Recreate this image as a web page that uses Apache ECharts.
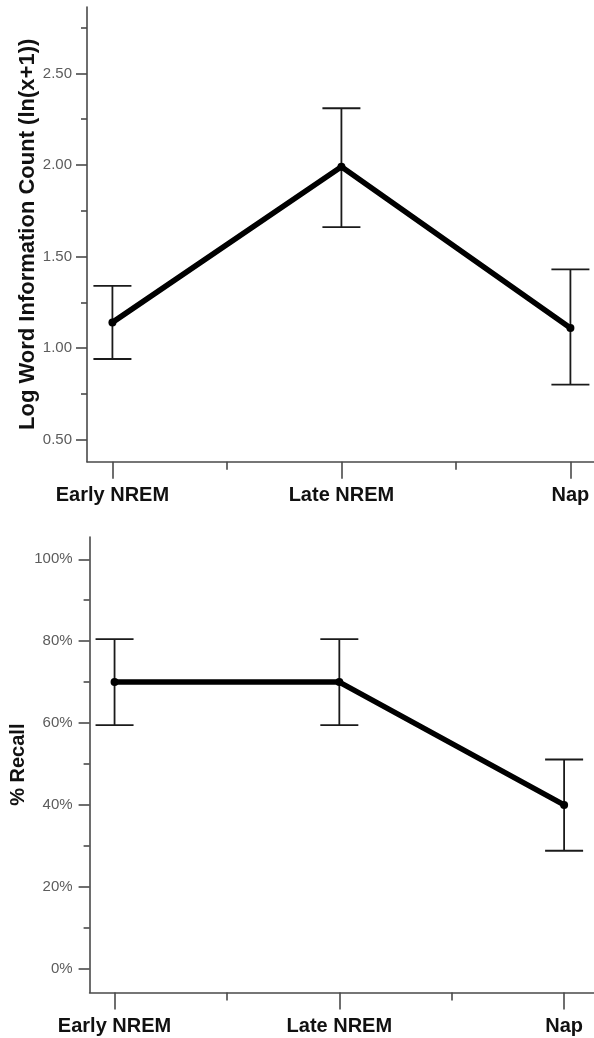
<!DOCTYPE html>
<html>
<head>
<meta charset="utf-8">
<script src="https://cdn.jsdelivr.net/npm/echarts@6/dist/echarts.min.js"></script>
<style>
  html, body { margin: 0; padding: 0; background: #fff; }
  #chart { width: 594px; height: 1038px; }
</style>
</head>
<body>
<div id="chart"></div>
<script>
// ---- data ----
const categories = ['Early NREM', 'Late NREM', 'Nap'];
const logMean = [1.14, 1.99, 1.11];
const logLow = [0.94, 1.66, 0.80];
const logHigh = [1.34, 2.31, 1.43];
const recallMean = [70, 70, 40];
const recallLow = [59.5, 59.5, 28.8];
const recallHigh = [80.5, 80.5, 51.1];
const logTicks = [0.5, 1.0, 1.5, 2.0, 2.5];
const logMinorTicks = [0.75, 1.25, 1.75, 2.25, 2.75];
const recallTicks = [0, 20, 40, 60, 80, 100];
const recallMinorTicks = [10, 30, 50, 70, 90];
const catPositions = [1, 2, 3];
const catMinorPositions = [1.5, 2.5];

const FONT = 'Liberation Sans, Arial, Helvetica, sans-serif';
const axisColor = '#4a4a4a';
const labelColor = '#5c5c5c';

function errRender(params, api) {
  const x = api.value(0), lo = api.value(1), hi = api.value(2);
  const pLo = api.coord([x, lo]);
  const pHi = api.coord([x, hi]);
  const w = 19;
  const style = { stroke: '#1a1a1a', lineWidth: 1.8, fill: null };
  return {
    type: 'group',
    children: [
      { type: 'line', shape: { x1: pLo[0], y1: pLo[1], x2: pHi[0], y2: pHi[1] }, style: style },
      { type: 'line', shape: { x1: pHi[0] - w, y1: pHi[1], x2: pHi[0] + w, y2: pHi[1] }, style: style },
      { type: 'line', shape: { x1: pLo[0] - w, y1: pLo[1], x2: pLo[0] + w, y2: pLo[1] }, style: style }
    ]
  };
}

function xAxesFor(gridIndex, min, max) {
  return [
    {
      type: 'value', gridIndex: gridIndex, min: min, max: max, position: 'bottom',
      axisLine: { show: true, onZero: false, lineStyle: { color: axisColor, width: 1.6 } },
      axisTick: { show: true, customValues: catPositions, length: 17, lineStyle: { color: axisColor, width: 1.6 } },
      axisLabel: {
        show: true, customValues: catPositions, margin: 24,
        formatter: v => categories[Math.round(v) - 1] || '',
        fontFamily: FONT, fontSize: 20, fontWeight: 'bold', color: '#111'
      },
      splitLine: { show: false }
    },
    {
      type: 'value', gridIndex: gridIndex, min: min, max: max, position: 'bottom',
      axisLine: { show: false, onZero: false },
      axisTick: { show: true, customValues: catMinorPositions, length: 8, lineStyle: { color: axisColor, width: 1.6 } },
      axisLabel: { show: false },
      splitLine: { show: false }
    }
  ];
}

function yAxesFor(gridIndex, min, max, ticks, minor, fmt, name, nameGap, nameSize, labelMargin) {
  return [
    {
      type: 'value', gridIndex: gridIndex, min: min, max: max, position: 'left',
      name: name, nameLocation: 'middle', nameGap: nameGap, nameRotate: 90, nameMoveOverlap: false,
      nameTextStyle: { fontFamily: FONT, fontSize: nameSize, fontWeight: 'bold', color: '#111' },
      axisLine: { show: true, onZero: false, lineStyle: { color: axisColor, width: 1.6 } },
      axisTick: { show: true, customValues: ticks, length: 11, lineStyle: { color: axisColor, width: 1.6 } },
      axisLabel: { show: true, customValues: ticks, margin: labelMargin, formatter: fmt, fontFamily: FONT, fontSize: 15, color: labelColor },
      splitLine: { show: false }
    },
    {
      type: 'value', gridIndex: gridIndex, min: min, max: max, position: 'left',
      axisLine: { show: false, onZero: false },
      axisTick: { show: true, customValues: minor, length: 6, lineStyle: { color: axisColor, width: 1.6 } },
      axisLabel: { show: false },
      splitLine: { show: false }
    }
  ];
}

const chart = echarts.init(document.getElementById('chart'), null, { renderer: 'canvas' });

const option = {
  animation: false,
  backgroundColor: '#fff',
  grid: [
    { left: 87, right: 0, top: 7, height: 454.7, containLabel: false, outerBoundsMode: 'none' },
    { left: 89.6, right: 0, top: 537, height: 455.4, containLabel: false, outerBoundsMode: 'none' }
  ],
  xAxis: [].concat(xAxesFor(0, 0.889, 3.103), xAxesFor(1, 0.889, 3.133)),
  yAxis: [].concat(
    yAxesFor(0, 0.379, 2.863, logTicks, logMinorTicks, v => v.toFixed(2), 'Log Word Information Count (ln(x+1))', 48, 22, 15),
    yAxesFor(1, -5.8, 105.45, recallTicks, recallMinorTicks, v => Math.round(v) + '%', '% Recall', 61, 20, 17)
  ),
  series: [
    {
      type: 'custom', xAxisIndex: 0, yAxisIndex: 0, renderItem: errRender, z: 2,
      data: categories.map((c, i) => [catPositions[i], logLow[i], logHigh[i]])
    },
    {
      type: 'line', xAxisIndex: 0, yAxisIndex: 0, z: 3,
      data: categories.map((c, i) => [catPositions[i], logMean[i]]),
      lineStyle: { color: '#000', width: 5.5, cap: 'round', join: 'round' },
      symbol: 'circle', symbolSize: 8, itemStyle: { color: '#000' }
    },
    {
      type: 'custom', xAxisIndex: 2, yAxisIndex: 2, renderItem: errRender, z: 2,
      data: categories.map((c, i) => [catPositions[i], recallLow[i], recallHigh[i]])
    },
    {
      type: 'line', xAxisIndex: 2, yAxisIndex: 2, z: 3,
      data: categories.map((c, i) => [catPositions[i], recallMean[i]]),
      lineStyle: { color: '#000', width: 5.5, cap: 'round', join: 'round' },
      symbol: 'circle', symbolSize: 8, itemStyle: { color: '#000' }
    }
  ]
};
chart.setOption(option);
</script>
</body>
</html>
